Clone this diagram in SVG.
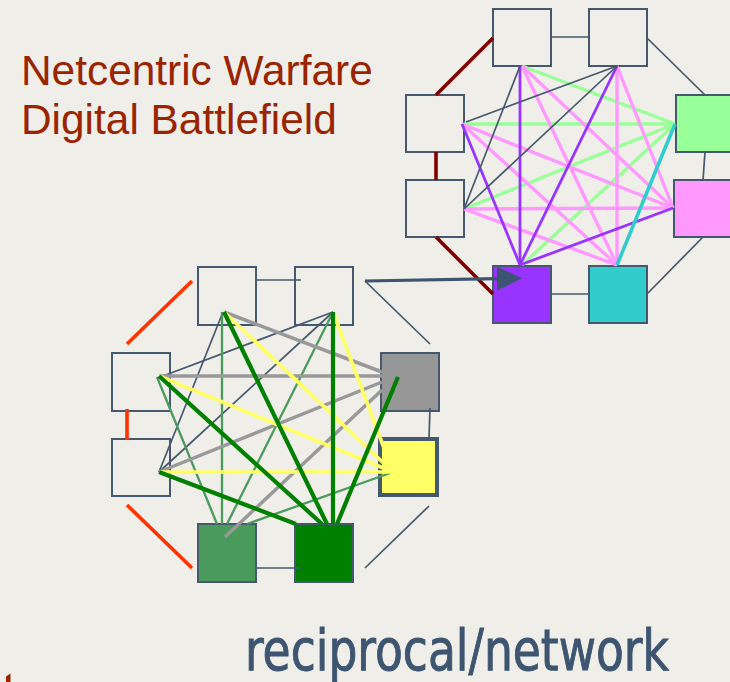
<svg xmlns="http://www.w3.org/2000/svg" width="730" height="682" viewBox="0 0 730 682">
<defs>
<style>
.nd{stroke:#45586e;stroke-width:2;fill:#efeee8}
.thin{stroke:#45586e;stroke-width:1.7;fill:none}
.dred{stroke:#800000;stroke-width:3.6;fill:none}
.ored{stroke:#ff3300;stroke-width:3.6;fill:none}
.lg{stroke:#99ff99;stroke-width:3.4}
.pk{stroke:#ff99ff;stroke-width:3.4}
.pu{stroke:#9933ff;stroke-width:2.8}
.cy{stroke:#33cccc;stroke-width:3.6}
.gr{stroke:#999999;stroke-width:3.5}
.ye{stroke:#ffff66;stroke-width:3.7}
.dg{stroke:#008000;stroke-width:4.2}
.mg{stroke:#4a9a5c;stroke-width:2.3}
.title{font-family:"Liberation Sans",Arial,sans-serif;font-size:42.4px;fill:#9b2400}
</style>
<marker id="ah" markerWidth="26" markerHeight="26" refX="1" refY="13" viewBox="0 0 26 26" markerUnits="userSpaceOnUse" orient="auto">
<path d="M0,1 L25,13 L0,25 Z" fill="#3d5570"/>
</marker>
</defs>
<rect x="0" y="0" width="730" height="682" fill="#efeee8"/>

<g id="title">
<text class="title" x="21" y="85">Netcentric Warfare</text>
<text class="title" x="21" y="134">Digital Battlefield</text>
</g>

<g id="net1-nodes">
<rect id="n1a" class="nd" x="493" y="9" width="58" height="57"/>
<rect id="n1b" class="nd" x="589" y="9" width="58" height="57"/>
<rect id="n1c" class="nd" x="406" y="95" width="58" height="57"/>
<rect id="n1d" class="nd" x="406" y="180" width="58" height="57"/>
<rect id="n1e" class="nd" x="676" y="95" width="58" height="57" style="fill:#99ff99"/>
<rect id="n1p" class="nd" x="674" y="180" width="58" height="57" style="fill:#ff99ff"/>
<rect id="n1f" class="nd" x="493" y="266" width="58" height="57" style="fill:#9933ff"/>
<rect id="n1g" class="nd" x="589" y="266" width="58" height="57" style="fill:#33cccc"/>
</g>

<g id="net2-nodes">
<rect id="n2a" class="nd" x="198" y="267" width="58" height="58"/>
<rect id="n2b" class="nd" x="295" y="267" width="58" height="58"/>
<rect id="n2c" class="nd" x="112" y="353" width="58" height="58"/>
<rect id="n2d" class="nd" x="112" y="439" width="58" height="57"/>
<rect id="n2e" class="nd" x="381" y="353" width="58" height="58" style="fill:#979797"/>
<rect id="n2f" class="nd" x="380" y="439" width="57" height="56" style="fill:#ffff66;stroke-width:4"/>
<rect id="n2g" class="nd" x="198" y="524" width="58" height="58" style="fill:#4a9a5c"/>
<rect id="n2h" class="nd" x="295" y="524" width="58" height="58" style="fill:#008000"/>
</g>

<g id="connectors">
<g id="net1-ring">
<line class="thin" x1="551" y1="37" x2="589" y2="37"/>
<line class="dred" x1="493" y1="38" x2="436" y2="95"/>
<line class="dred" x1="436" y1="152" x2="436" y2="180"/>
<line class="dred" x1="436" y1="237" x2="493" y2="294"/>
<line class="thin" x1="647" y1="38" x2="705" y2="95"/>
<line class="thin" x1="705" y1="152" x2="703" y2="180"/>
<line class="thin" x1="703" y1="237" x2="647" y2="294"/>
<line class="thin" x1="551" y1="294" x2="589" y2="294"/>
</g>
<g id="net1-mesh">
<line class="lg" x1="522" y1="66" x2="675" y2="124"/>
<line class="lg" x1="464" y1="124" x2="675" y2="124"/>
<line class="lg" x1="464" y1="209" x2="675" y2="124"/>
<line class="lg" x1="522" y1="265" x2="675" y2="124"/>
<line class="pk" x1="522" y1="66" x2="673" y2="208"/>
<line class="pk" x1="522" y1="66" x2="617" y2="265"/>
<line class="pk" x1="617" y1="66" x2="617" y2="265"/>
<line class="pk" x1="617" y1="66" x2="673" y2="208"/>
<line class="pk" x1="462" y1="124" x2="673" y2="208"/>
<line class="pk" x1="462" y1="124" x2="617" y2="265"/>
<line class="pk" x1="464" y1="209" x2="673" y2="208"/>
<line class="pk" x1="464" y1="209" x2="617" y2="265"/>
<line class="pu" x1="520" y1="66" x2="520" y2="265"/>
<line class="pu" x1="617" y1="66" x2="520" y2="265"/>
<line class="pu" x1="462" y1="124" x2="520" y2="265"/>
<line class="pu" x1="673" y1="208" x2="520" y2="265"/>
<line class="thin" x1="520" y1="66" x2="464" y2="209"/>
<line class="thin" x1="617" y1="66" x2="466" y2="122"/>
<line class="thin" x1="617" y1="66" x2="464" y2="209"/>
<line class="cy" x1="675" y1="124" x2="617" y2="265"/>
</g>
<g id="net2-ring">
<line class="thin" x1="256" y1="280" x2="301" y2="280"/>
<line class="ored" x1="127" y1="344" x2="192" y2="281"/>
<line class="ored" x1="127" y1="409" x2="127" y2="440"/>
<line class="ored" x1="127" y1="505" x2="192" y2="568"/>
<line class="thin" x1="365" y1="281" x2="430" y2="344"/>
<line class="thin" x1="430" y1="408" x2="429" y2="438"/>
<line class="thin" x1="429" y1="506" x2="365" y2="568"/>
<line class="thin" x1="256" y1="568" x2="301" y2="568"/>
</g>
<g id="net2-mesh">
<line class="thin" x1="223" y1="312" x2="159" y2="472"/>
<line class="thin" x1="333" y1="312" x2="163" y2="376"/>
<line class="thin" x1="333" y1="312" x2="159" y2="472"/>
<line class="mg" x1="222" y1="312" x2="222" y2="524"/>
<line class="mg" x1="333" y1="312" x2="227" y2="524"/>
<line class="mg" x1="157" y1="377" x2="217" y2="524"/>
<line class="mg" x1="393" y1="472" x2="247" y2="524"/>
<line class="gr" x1="224" y1="312" x2="382" y2="372"/>
<line class="gr" x1="159" y1="376" x2="382" y2="376"/>
<line class="gr" x1="159" y1="472" x2="382" y2="382"/>
<line class="gr" x1="225" y1="537" x2="382" y2="390"/>
<line class="ye" x1="224" y1="312" x2="393" y2="472"/>
<line class="ye" x1="333" y1="312" x2="393" y2="472"/>
<line class="ye" x1="159" y1="376" x2="393" y2="472"/>
<line class="ye" x1="159" y1="472" x2="393" y2="472"/>
<line class="dg" x1="224" y1="312" x2="327" y2="524"/>
<line class="dg" x1="333" y1="312" x2="333" y2="524"/>
<line class="dg" x1="159" y1="376" x2="322" y2="524"/>
<line class="dg" x1="159" y1="472" x2="296" y2="524"/>
<line class="dg" x1="398" y1="377" x2="337" y2="524"/>
</g>
<line id="link" x1="365" y1="281" x2="498" y2="278.6" stroke="#3d5570" stroke-width="3.2" marker-end="url(#ah)"/>
</g>

<text x="245" y="670" textLength="424" lengthAdjust="spacingAndGlyphs" style="font-family:'Liberation Sans Narrow','DejaVu Sans Condensed','DejaVu Sans',sans-serif;font-stretch:condensed;font-size:57px;fill:#3d5570;stroke:#3d5570;stroke-width:0.9">reciprocal/network</text>
<path d="M6,682 V676.5 L10.5,673.5 V682 Z" fill="#9b2400"/>
</svg>
